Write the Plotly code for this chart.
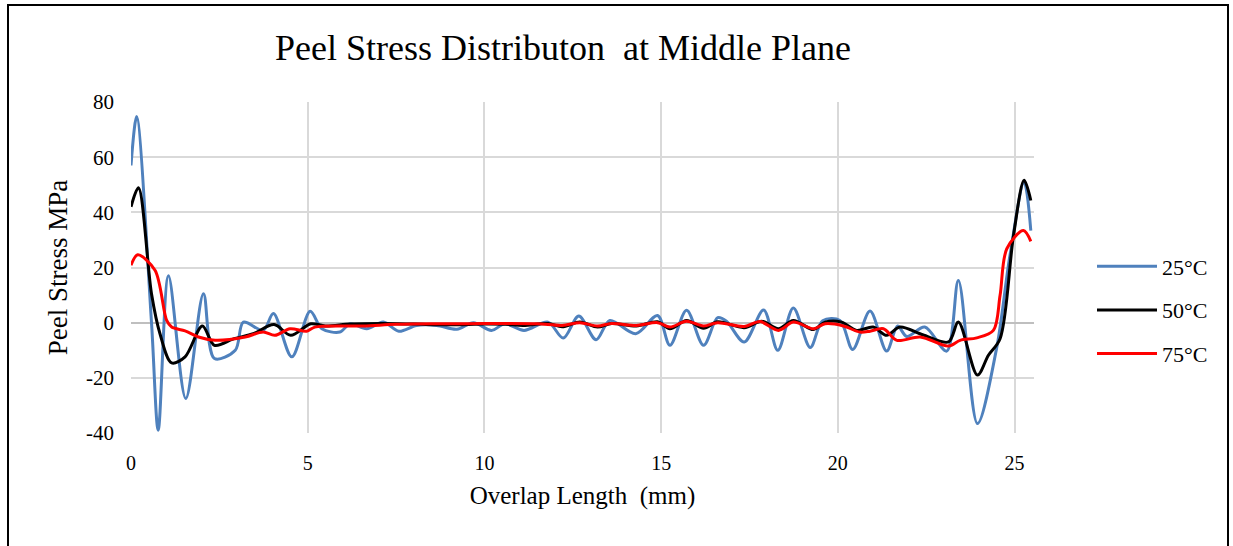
import plotly.graph_objects as go

# ---- data ----
x_25 = [0, 0.16, 0.58, 0.77, 1.06, 1.55, 2.05, 2.36, 2.95, 3.18, 3.74, 4.03, 4.55, 5.07, 5.4, 5.91,
        6.2, 6.67, 7.14, 7.58, 8.08, 8.65, 9.22, 9.69, 10.2, 10.58, 11.12, 11.8, 12.23, 12.67, 13.16,
        13.55, 14.28, 14.9, 15.25, 15.72, 16.2, 16.6, 16.85, 17.35, 17.9, 18.3, 18.74, 19.22, 19.57,
        20.06, 20.42, 20.91, 21.38, 21.69, 21.95, 22.46, 23.08, 23.41, 23.95, 24.49, 24.87, 25.27, 25.46]
y_25 = [57, 74.7, 0, -39, 17, -27.5, 10.5, -13, -10, 0.2, -2.8, 3.3, -12.4, 4.1, -2.2, -3.4,
        -0.4, -2.2, 0.2, -3.1, -1, -1, -2.4, 0, -2.8, -0.4, -2.8, 0.2, -5.6, 2.4, -6.2,
        0.8, -4, 2.6, -8.2, 4.5, -8.2, 1.8, 0.5, -7, 4.6, -10, 5.3, -9, 0.7,
        0.8, -9.7, 4.2, -10.3, -1.2, -5, -1.6, -10.3, 15.3, -36.6, -9.4, 24.4, 51, 33.4]

x_50 = [0, 0.21, 0.58, 0.82, 1.15, 1.53, 2.02, 2.36, 2.92, 3.46, 4.05, 4.52, 5.09, 5.5, 6.2, 7.1,
        8, 9, 10, 10.6, 11.1, 11.8, 12.2, 12.7, 13.2, 13.6, 14.3, 14.9, 15.25, 15.72, 16.2, 16.6,
        17.35, 17.85, 18.32, 18.74, 19.31, 19.64, 20.11, 20.53, 21.0, 21.38, 21.76, 22.4, 23.13,
        23.41, 23.95, 24.26, 24.59, 24.97, 25.27, 25.46]
y_50 = [42, 48.9, 10.5, -4, -14.6, -12.4, -1.2, -8.2, -5.8, -4, -0.7, -4.6, -0.4, -1.2, -0.5, -0.3,
        -0.5, -0.8, -0.5, -0.6, -1.0, -0.3, -1.5, 0.2, -1.6, -0.3, -1.2, 0.3, -2.2, 0.8, -2.0, 0.3,
        -1.8, 0.5, -2.2, 0.8, -2.5, 0.2, 0.2, -2.8, -1.6, -4.6, -1.6, -4.4, -7,
        0.2, -19, -11.8, -5.8, 31.6, 51.6, 44.3]

x_75 = [0, 0.19, 0.68, 1.01, 1.15, 1.53, 1.91, 2.38, 3.23, 3.74, 4.07, 4.5, 4.97, 5.2, 6.57, 7.5,
        8.5, 9.5, 10.5, 11.5, 12.2, 12.7, 13.2, 13.6, 14.3, 14.9, 15.25, 15.72, 16.2, 16.6, 17.35,
        17.8, 18.32, 18.74, 19.31, 19.64, 20.16, 20.62, 20.91, 21.29, 21.67, 22.33, 23.13, 23.46,
        23.93, 24.4, 24.59, 24.78, 25.25, 25.46]
y_75 = [20.8, 24.6, 19, 0.8, -1.6, -3, -5.2, -6.4, -5.2, -3.4, -4.6, -2.2, -3.1, -1.6, -1.2, -0.6,
        -0.4, -0.4, -0.3, -0.4, -1, 0, -1.2, -0.3, -1, 0, -1.6, 0.5, -1.2, 0, -1.4,
        0.4, -2.8, 0.2, -2.2, -0.4, -1.2, -3.4, -3.1, -2.2, -6.4, -5.2, -8.5, -6.4,
        -5.5, -2.8, 9.9, 26.8, 33.4, 29.5]

series_names = ["25\u00b0C", "50\u00b0C", "75\u00b0C"]
series_colors = ["#4F81BD", "#000000", "#FF0000"]
x_ticks = [0, 5, 10, 15, 20, 25]
y_ticks = [-40, -20, 0, 20, 40, 60, 80]
y_tick_labels = ["-40", "-20", "0", "20", "40", "60", "80"]

FONT = "Liberation Serif, Times New Roman, serif"

fig = go.Figure()
for i, (xs, ys) in enumerate([(x_25, y_25), (x_50, y_50), (x_75, y_75)]):
    fig.add_trace(go.Scatter(
        x=xs, y=ys, mode="lines", name=series_names[i],
        line=dict(color=series_colors[i], width=3, shape="spline", smoothing=0.9),
        legendgroup=series_names[i],
    ))

fig.update_layout(
    width=1233, height=546,
    margin=dict(l=131, r=199, t=102, b=113),
    paper_bgcolor="white", plot_bgcolor="white",
    font=dict(family=FONT, color="#000000"),
    title=dict(text="Peel Stress Distributon  at Middle Plane", x=563 / 1233, xanchor="center",
               y=1 - 47 / 546, yanchor="middle", font=dict(size=36, family=FONT, color="#000")),
    showlegend=True,
    legend=dict(x=(1092 - 131) / 903, xanchor="left", y=(433 - 310) / 331, yanchor="middle",
                font=dict(size=22, family=FONT),
                tracegroupgap=12, itemwidth=60, bgcolor="rgba(0,0,0,0)"),
    xaxis=dict(range=[0, 25.55], tickvals=x_ticks, showgrid=True, gridcolor="#D9D9D9", gridwidth=2,
               zeroline=False, showline=False, ticks="", ticklabelstandoff=16,
               tickfont=dict(size=20, family=FONT),
               title=dict(text="Overlap Length  (mm)", font=dict(size=25, family=FONT), standoff=13)),
    yaxis=dict(range=[-40, 80], tickvals=y_ticks, ticktext=y_tick_labels, showgrid=True,
               gridcolor="#D9D9D9", gridwidth=2,
               zeroline=True, zerolinecolor="#BFBFBF", zerolinewidth=2, showline=False, ticks="",
               ticklabelstandoff=16, tickfont=dict(size=21, family=FONT),
               title=dict(text="Peel Stress MPa", font=dict(size=27, family=FONT), standoff=10)),
)

# outer chart frame
fig.add_shape(type="rect", xref="paper", yref="paper",
              x0=(8 - 131) / 903, x1=(1228 - 131) / 903, y0=(433 - 560) / 331, y1=(433 - 5) / 331,
              line=dict(color="#000000", width=2), fillcolor="rgba(0,0,0,0)", layer="below")

fig.write_html("out.html")
